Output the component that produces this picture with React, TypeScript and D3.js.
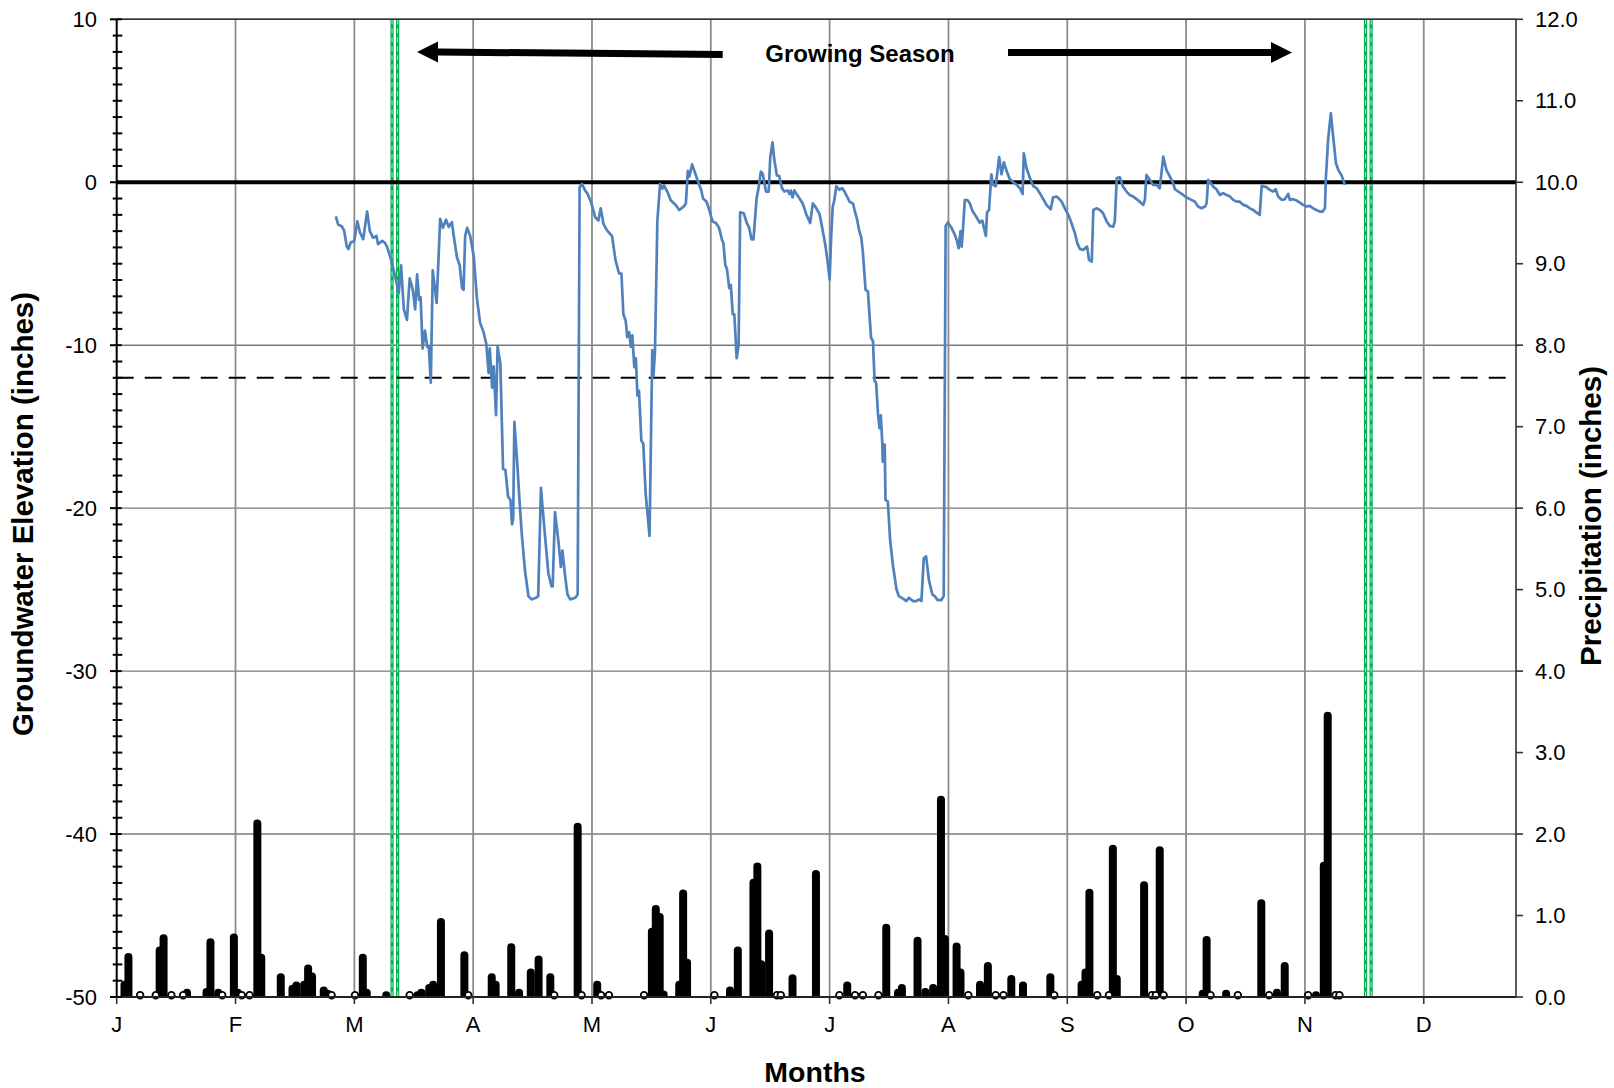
import React from 'react';
import * as d3 from 'd3';

// ---- axis definitions ----
const MONTH_LABELS = ['J', 'F', 'M', 'A', 'M', 'J', 'J', 'A', 'S', 'O', 'N', 'D'];
const DAYS_PER_MONTH = 365 / 12;
const AXIS_DAY_MAX = 358.2;
const GW_MAJOR_TICKS = [-50, -40, -30, -20, -10, 0, 10];
const PRECIP_TICKS = [0, 1, 2, 3, 4, 5, 6, 7, 8, 9, 10, 11, 12];

// ---- reference levels ----
const GROWING_SEASON_LIMITS = [71.2, 320.4]; // day of year
const CRITICAL_DEPTH = -12; // inches

// ---- groundwater elevation (inches), day of year ----
const GW_DAY = [
  56.1, 56.7, 57.6, 58.2, 58.9, 59.3, 59.9, 60.8, 61.6, 62.3, 63.1, 64.1, 64.8, 65.6, 66.5, 66.9,
  68.0, 68.6, 69.2, 70.3, 71.1, 72.2, 72.8, 73.5, 74.3, 75.0, 75.8, 76.4, 76.9, 77.4, 77.8, 78.3,
  78.9, 79.5, 79.9, 80.4, 80.9, 81.9, 82.8, 83.5, 84.3, 85.0, 85.8, 86.4, 87.1, 87.8, 88.4, 88.8,
  89.2, 89.7, 90.5, 91.4, 92.2, 93.0, 93.9, 94.6, 95.2, 95.5, 96.1, 96.5, 97.1, 97.5, 98.2, 98.9,
  99.5, 100.2, 100.8, 101.2, 101.5, 101.8, 102.6, 103.1, 103.7, 104.5, 105.4, 106.2, 107.3, 107.9,
  108.6, 109.6, 110.5, 111.3, 111.6, 112.2, 113.1, 113.7, 114.1, 114.8, 115.4, 116.1, 117.4, 118.0,
  118.5, 119.1, 119.9, 120.5, 121.4, 122.5, 123.3, 123.9, 124.6, 125.5, 126.8, 127.7, 128.6, 129.2,
  129.7, 130.3, 130.7, 131.2, 131.6, 132.0, 132.5, 132.9, 133.3, 133.7, 134.3, 134.8, 135.4, 136.4,
  137.1, 137.4, 137.8, 138.4, 139.1, 139.7, 140.1, 141.0, 141.8, 143.1, 144.0, 145.1, 145.7, 146.2,
  146.6, 147.3, 148.3,
  149.1, 149.6, 150.1, 151.0, 151.7, 152.5, 153.4, 154.2, 154.9, 155.3, 155.8, 156.2, 156.8, 157.2,
  157.7, 158.1, 158.7, 159.2, 159.6, 160.5, 161.3, 161.9, 162.5, 163.0, 163.8, 164.3, 164.9, 165.4,
  165.8, 166.2, 166.9, 167.3, 167.9, 168.3, 169.0, 169.6, 170.3, 170.9, 171.8, 172.2, 172.6, 173.0,
  173.5, 173.9, 174.8, 175.6, 176.5, 177.5, 178.2, 179.0, 179.9, 180.6, 181.4, 182.0, 182.5, 182.9,
  183.3, 183.7, 184.2, 185.0, 185.7, 186.3, 187.0, 187.6, 188.5, 188.9, 189.5, 190.1, 190.6, 191.0,
  191.7, 192.3, 193.1, 193.6, 194.0, 194.4, 194.9, 195.3, 195.6, 196.0, 196.1, 196.6, 196.8, 197.4,
  198.0, 198.7, 199.6, 200.2, 201.3, 202.1, 202.8, 203.8, 204.7, 205.5, 206.0, 206.6, 207.2, 207.9,
  208.8, 209.4, 210.1, 211.1, 211.7, 212.2, 212.8, 213.7, 214.5, 215.1, 215.5, 216.0, 216.3, 216.6,
  217.1, 217.8, 218.4, 219.0, 220.1, 220.9, 221.6, 222.0, 222.5, 222.8, 223.3, 223.9, 224.3, 225.0,
  225.9, 226.5, 227.1, 227.8, 228.6, 229.5, 230.4, 231.2, 231.9, 232.2, 232.9, 233.8, 234.6, 235.5,
  236.3, 237.2, 238.0, 239.1, 239.7, 240.7, 241.9, 242.7, 243.6, 244.4, 245.3, 245.9, 246.6, 247.4,
  248.4, 248.9, 249.6, 250.0, 250.8, 251.7, 252.5, 253.4, 254.2, 255.1, 255.5, 256.0, 256.8, 257.6,
  258.5, 259.3, 260.2, 261.1, 261.9, 262.8, 263.2, 263.6, 264.5, 265.3, 266.2, 267.0, 267.9, 268.7,
  269.6, 270.4, 270.9, 272.1, 273.0, 273.9, 275.1, 276.0, 276.8, 277.7, 278.6, 279.0, 279.4, 279.8,
  280.7, 281.5, 282.4, 283.2, 284.1, 285.0, 285.8, 286.7, 287.5, 288.4, 289.2, 290.1, 290.9, 291.8,
  292.6, 293.1, 294.3, 295.2, 296.0, 296.7, 297.3, 298.2, 299.0, 299.9, 300.3, 301.2, 302.0, 302.9,
  303.7, 304.6, 305.4, 306.3, 307.1, 308.0, 308.7, 309.3, 309.5, 310.1, 310.8, 311.4, 312.1, 312.7,
  313.5, 314.4,
];
const GW_LEVEL = [
  -2.1, -2.6, -2.7, -2.95, -3.95, -4.1, -3.7, -3.6, -2.4, -3.1, -3.5, -1.8, -3.0, -3.4, -3.3, -3.8,
  -3.6, -3.7, -3.95, -4.8, -5.6, -6.8, -5.1, -7.8, -8.45, -5.9, -6.6, -7.8, -5.65, -7.2, -7.05, -10.2,
  -9.1, -10.1, -10.1, -12.3, -5.4, -7.4, -2.25, -2.8, -2.3, -2.75, -2.45, -3.5, -4.6, -5.1, -6.5, -6.6,
  -3.3, -2.8, -3.3, -4.55, -7.1, -8.6, -9.2, -9.9, -11.7, -10.2, -12.6, -11.3, -14.3, -10.1, -11.1, -17.6,
  -17.65, -19.3, -19.5, -21.0, -20.6, -14.7, -17.5, -19.5, -21.6, -23.8, -25.4, -25.6, -25.5, -25.4,
  -18.75, -21.6, -24.0, -24.8, -24.8, -20.25, -22.1, -23.6, -22.6, -24.2, -25.3, -25.6, -25.5, -25.3,
  -0.3, -0.1, -0.5, -0.7, -1.2, -2.15, -2.35, -1.6, -2.55, -2.95, -3.3, -4.8, -5.6, -5.6,
  -8.1, -8.5, -9.5, -9.2, -10.1, -9.4, -11.35, -10.8, -13.1, -12.8, -15.85, -16.05, -19.1, -21.7,
  -10.3, -11.9, -10.3, -2.35, -0.1, -0.4, -0.2, -0.6, -1.1, -1.4, -1.7, -1.5, -1.3, 0.7,
  0.35, 1.1, 0.4,
  -0.15, -0.46, -1.0, -1.2, -1.7, -2.4, -2.5, -2.8, -3.5, -3.74, -5.1, -5.3, -6.5, -6.3,
  -8.1, -8.1, -10.8, -9.97, -1.84, -1.9, -2.5, -2.8, -3.5, -3.5, -1.0, -0.36, 0.65, 0.5,
  -0.04, -0.57, -0.57, 1.54, 2.45, 1.44, 0.42, 0.38, -0.36, -0.57, -0.51, -0.72, -0.51, -0.93,
  -0.5, -0.68, -1.0, -1.3, -1.95, -2.5, -1.3, -1.56, -1.95, -2.8, -3.85, -4.9, -5.96, -3.3,
  -1.5, -1.1, -0.25, -0.46, -0.36, -0.57, -0.89, -1.2, -1.31, -1.73, -2.26, -3.0, -3.4, -4.27,
  -6.6, -6.7, -9.55, -9.76, -12.2, -12.3, -14.3, -15.1, -14.3, -16.1, -17.15, -16.1, -19.5, -19.6,
  -22.0, -23.5, -24.96, -25.4, -25.55, -25.7, -25.5, -25.7, -25.7, -25.6, -25.7, -23.06, -22.96, -24.4,
  -25.3, -25.4, -25.64, -25.64, -25.4, -2.68, -2.47, -2.8, -3.2, -3.6, -4.05, -3.0, -3.95, -3.0,
  -1.1, -1.1, -1.3, -1.73, -2.15, -2.47, -2.36, -2.8, -3.3, -1.84, -1.7, 0.49, -0.15, -0.25,
  1.54, 0.49, 1.22, 0.7, 0.2, 0.0, -0.16, -0.37, -0.72, 1.78, 0.86, 0.25, -0.22, -0.37,
  -0.67, -1.04, -1.39, -1.66, -0.92, -0.88, -1.19, -1.6, -2.0, -2.5, -3.13, -3.74, -4.1, -4.15,
  -3.95, -4.76, -4.87, -1.7, -1.6, -1.7, -1.9, -2.4, -2.68, -2.72, -2.4, 0.25, 0.3, -0.27,
  -0.57, -0.78, -0.88, -1.04, -1.19, -1.39, -1.08, 0.45, 0.14, -0.16, -0.16, -0.37, 1.57, 0.76,
  0.35, -0.04, -0.43, -0.63, -0.78, -0.94, -1.08, -1.19, -1.49, -1.6, -1.49, -1.29, 0.14, 0.04,
  -0.27, -0.43, -0.78, -0.67, -0.78, -0.88, -1.08, -1.19, -1.19, -1.39, -1.45, -1.6, -1.7, -1.86,
  -2.0, -0.22, -0.3, -0.47, -0.57, -0.43, -0.88, -1.08, -1.04, -0.72, -1.08, -1.04, -1.12, -1.25,
  -1.39, -1.49, -1.45, -1.6, -1.7, -1.8, -1.8, -1.6, 0.14, 2.6, 4.23, 2.8, 1.17, 0.76,
  0.45, -0.16,
];

// ---- daily precipitation (inches) ----
const RAIN_DAY = [
  2, 3, 11, 12, 18, 23, 24, 26, 30, 31, 36, 37, 42, 45, 46, 48, 49, 50, 53, 54, 63, 64, 69, 77, 78,
  80, 81, 83, 89, 96, 97, 101, 103, 106, 108, 111, 118, 123, 137, 138, 139, 140, 144, 145, 146, 157,
  159, 163, 164, 165, 167, 173, 179, 187, 197, 200, 201, 205, 207, 209, 211, 212, 215, 216, 221, 223,
  229, 232, 239, 247, 248, 249, 255, 256, 263, 267, 278, 279, 284, 293, 297, 299, 307, 309, 310,
];
const RAIN_IN = [
  0.2, 0.54, 0.62, 0.77, 0.1, 0.11, 0.72, 0.1, 0.78, 0.1, 2.18, 0.53, 0.29, 0.15, 0.19, 0.2, 0.4, 0.3,
  0.13, 0.09, 0.53, 0.1, 0.07, 0.07, 0.1, 0.16, 0.2, 0.97, 0.56, 0.29, 0.2, 0.66, 0.1, 0.35, 0.51,
  0.29, 2.14, 0.2, 0.85, 1.13, 1.03, 0.08, 0.2, 1.32, 0.47, 0.13, 0.62, 1.45, 1.65, 0.45, 0.83, 0.28,
  1.56, 0.19, 0.9, 0.1, 0.16, 0.74, 0.11, 0.16, 2.47, 0.76, 0.67, 0.35, 0.2, 0.43, 0.27, 0.19, 0.29,
  0.2, 0.35, 1.33, 1.87, 0.27, 1.42, 1.85, 0.09, 0.75, 0.09, 1.2, 0.1, 0.43, 0.07, 1.66, 3.5,
];
// days with a recorded reading of zero
const DRY_DAY = [
  6, 10, 14, 17, 27, 32, 34, 55, 61, 75, 90, 112, 119, 124, 126, 135, 153, 169, 170, 185, 189, 191,
  195, 218, 225, 227, 240, 251, 254, 265, 266, 268, 280, 287, 295, 305, 312, 313,
];

const FONT = 'Liberation Sans, Arial, Helvetica, sans-serif';

export default function App() {
  const W = 1614;
  const H = 1088;
  const plot = { left: 116.7, right: 1516, top: 19.3, bottom: 997 };

  const x = d3.scaleLinear().domain([0, AXIS_DAY_MAX]).range([plot.left, plot.right]);
  const yGw = d3.scaleLinear().domain([-50, 10]).range([plot.bottom, plot.top]);
  const yP = d3.scaleLinear().domain([0, 12]).range([plot.bottom, plot.top]);

  const monthDays = MONTH_LABELS.map((_, i) => i * DAYS_PER_MONTH);
  const minorTicks = d3.range(-50, 11, 1).filter((v) => v % 10 !== 0);

  const gwLine = d3
    .line<number>()
    .x((_, i) => x(GW_DAY[i]))
    .y((d) => yGw(d))(GW_LEVEL) as string;

  const barWidth = 8;
  const capR = barWidth / 2;

  return (
    <svg
      width={W}
      height={H}
      viewBox={`0 0 ${W} ${H}`}
      style={{ position: 'absolute', left: 0, top: 0, background: '#fff' }}
      fontFamily={FONT}
    >
      <defs>
        <clipPath id="plot-clip">
          <rect x={plot.left} y={plot.top - 10} width={plot.right - plot.left} height={plot.bottom - plot.top + 10} />
        </clipPath>
      </defs>
      <rect x={0} y={0} width={W} height={H} fill="#fff" />

      {/* horizontal gridlines */}
      {GW_MAJOR_TICKS.filter((v) => v !== -50 && v !== 0).map((v) => (
        <line key={`hg${v}`} x1={plot.left} x2={plot.right} y1={yGw(v)} y2={yGw(v)} stroke="#7a7a7a" strokeWidth={1.4} />
      ))}
      {/* vertical month gridlines */}
      {monthDays.slice(1).map((d, i) => (
        <line key={`vg${i}`} x1={x(d)} x2={x(d)} y1={plot.top} y2={plot.bottom} stroke="#8c8c8c" strokeWidth={1.8} />
      ))}

      {/* growing season limits (double green dashed) */}
      {GROWING_SEASON_LIMITS.map((d, i) => (
        <g key={`gs${i}`}>
          {[-2.8, 2.8].map((off) => (
            <g key={off}>
              <line x1={x(d) + off} x2={x(d) + off} y1={plot.top} y2={plot.bottom} stroke="#00b050" strokeWidth={3.2} />
              <line x1={x(d) + off} x2={x(d) + off} y1={plot.top} y2={plot.bottom} stroke="#ffffff" strokeWidth={0.7} strokeDasharray="5 4" />
            </g>
          ))}
        </g>
      ))}

      {/* critical depth */}
      <line x1={plot.left} x2={plot.right} y1={yGw(CRITICAL_DEPTH)} y2={yGw(CRITICAL_DEPTH)} stroke="#000" strokeWidth={2} strokeDasharray="17 11" />

      {/* precipitation bars */}
      <g clipPath="url(#plot-clip)">
        {RAIN_DAY.map((d, i) => (
          <line
            key={`r${i}`}
            x1={x(d)}
            x2={x(d)}
            y1={yP(0) + capR}
            y2={yP(RAIN_IN[i]) + capR}
            stroke="#000"
            strokeWidth={barWidth}
            strokeLinecap="round"
          />
        ))}
      </g>
      {DRY_DAY.map((d, i) => (
        <circle key={`z${i}`} cx={x(d)} cy={yP(0) - 1.8} r={3.3} fill="#fff" stroke="#000" strokeWidth={1.8} />
      ))}

      {/* ground surface */}
      <line x1={plot.left} x2={plot.right} y1={yGw(0)} y2={yGw(0)} stroke="#000" strokeWidth={4} />

      {/* groundwater level */}
      <path d={gwLine} fill="none" stroke="#4f81bd" strokeWidth={2.7} strokeLinejoin="round" />

      {/* frame */}
      <line x1={plot.left} x2={plot.right} y1={plot.top} y2={plot.top} stroke="#333" strokeWidth={1.4} />
      <line x1={plot.left} x2={plot.right} y1={plot.bottom} y2={plot.bottom} stroke="#222" strokeWidth={2} />
      <line x1={plot.right} x2={plot.right} y1={plot.top} y2={plot.bottom} stroke="#333" strokeWidth={1.6} />
      <line x1={plot.left} x2={plot.left} y1={plot.top} y2={plot.bottom} stroke="#000" strokeWidth={2} />

      {/* left axis ticks and labels */}
      {minorTicks.map((v) => (
        <line key={`mt${v}`} x1={plot.left - 4} x2={plot.left + 5.6} y1={yGw(v)} y2={yGw(v)} stroke="#000" strokeWidth={2} />
      ))}
      {GW_MAJOR_TICKS.map((v) => (
        <g key={`lt${v}`}>
          <line x1={plot.left - 6.7} x2={plot.left + 5} y1={yGw(v)} y2={yGw(v)} stroke="#000" strokeWidth={2} />
          <text x={97} y={yGw(v)} dy="0.35em" textAnchor="end" fontSize={22} fill="#000">
            {v}
          </text>
        </g>
      ))}

      {/* right axis ticks and labels */}
      {PRECIP_TICKS.map((v) => (
        <g key={`rt${v}`}>
          <line x1={plot.right} x2={plot.right + 7} y1={yP(v)} y2={yP(v)} stroke="#333" strokeWidth={1.6} />
          <text x={1535} y={yP(v)} dy="0.35em" textAnchor="start" fontSize={22} fill="#000">
            {d3.format('.1f')(v)}
          </text>
        </g>
      ))}

      {/* month axis */}
      {monthDays.map((d, i) => (
        <g key={`mx${i}`}>
          <line x1={x(d)} x2={x(d)} y1={plot.bottom} y2={plot.bottom + 7} stroke="#333" strokeWidth={1.6} />
          <text x={x(d)} y={1032} textAnchor="middle" fontSize={22} fill="#000">
            {MONTH_LABELS[i]}
          </text>
        </g>
      ))}

      {/* axis titles */}
      <text x={815} y={1082} textAnchor="middle" fontSize={28.5} fontWeight="bold" fill="#000">
        Months
      </text>
      <text
        transform={`translate(33,514) rotate(-90)`}
        textAnchor="middle"
        fontSize={29.5}
        fontWeight="bold"
        fill="#000"
      >
        Groundwater Elevation (inches)
      </text>
      <text
        transform={`translate(1601,516) rotate(-90)`}
        textAnchor="middle"
        fontSize={29.5}
        fontWeight="bold"
        fill="#000"
      >
        Precipitation (inches)
      </text>

      {/* growing season annotation */}
      <polygon
        points="417,52 438,41.5 438,48.5 722.7,51 722.7,58 438,55.5 438,62.5"
        fill="#000"
      />
      <polygon
        points="1008,49 1271,49 1271,42 1292,52.5 1271,63 1271,56 1008,56"
        fill="#000"
      />
      <text x={860} y={62} textAnchor="middle" fontSize={24} fontWeight="bold" fill="#000">
        Growing Season
      </text>
    </svg>
  );
}
